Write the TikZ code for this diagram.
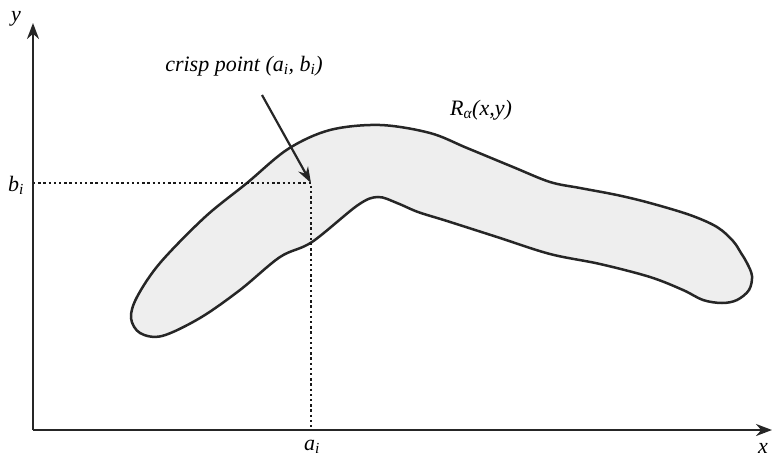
\documentclass[tikz,border=0pt]{standalone}
\usepackage{fontspec}
\setmainfont{Liberation Serif}
\usetikzlibrary{arrows.meta}
\tikzset{
  axis/.style={line width=2.5pt, draw=black!85, -{Stealth[length=16pt,width=12pt]}},
  guide/.style={line width=2.6pt, dash pattern=on 2.4pt off 2.8pt, draw=black!90},
  blob/.style={line width=2.5pt, draw=black!85, fill=gray!13},
  lbl/.style={font=\fontsize{22}{25}\selectfont\itshape, inner sep=0pt},
  pointer/.style={line width=2.2pt, draw=black!85, -{Stealth[length=16pt,width=11pt]}}
}
\begin{document}
\begin{tikzpicture}[x=1pt,y=-1pt]
\useasboundingbox (0,0) rectangle (775,458);
% region
\draw[blob] plot[smooth cycle, tension=0.55] coordinates {
 (131,318) (137,297) (160,263) (205,217) (247,183) (288,149) (330,130) (380,125)
 (430,133) (467,148) (513,167) (550,182) (580,188) (617,195) (650,203) (690,215)
 (717,227) (733,241) (741,253) (747,263) (752,276) (749,290) (737,300) (722,303)
 (703,300) (683,290) (650,277) (600,264) (550,254) (497,237) (447,221) (418,212)
 (397,203) (378,197) (358,205) (312,242) (280,257) (240,290) (200,318) (162,336) (140,333)};
% coordinates
\coordinate (O) at (33,430);
\coordinate (Y) at (33,23);
\coordinate (X) at (772,430);
\coordinate (P) at (311,183);
\coordinate (Bi) at (33,183);
\coordinate (Ai) at (311,430);
% guides
\draw[guide] (Bi) -- (P) -- (Ai);
% axes
\draw[axis] (O) -- (Y);
\draw[axis] (O) -- (X);
% labels
\node[lbl] (ylab) at (16,19) {y};
\node[lbl] (xlab) at (763,448) {x};
\node[lbl] (bilab) at (16,185) {b\textsubscript{i}};
\node[lbl] (ailab) at (312,447) {a\textsubscript{i}};
\node[lbl] (crisp) at (244,66) {crisp point (a\textsubscript{i}, b\textsubscript{i})};
\node[lbl] (rlab) at (481,110) {R\textsubscript{α}(x,y)};
\coordinate (S) at (262,95);
\draw[pointer] (S) -- (P);
\end{tikzpicture}
\end{document}
